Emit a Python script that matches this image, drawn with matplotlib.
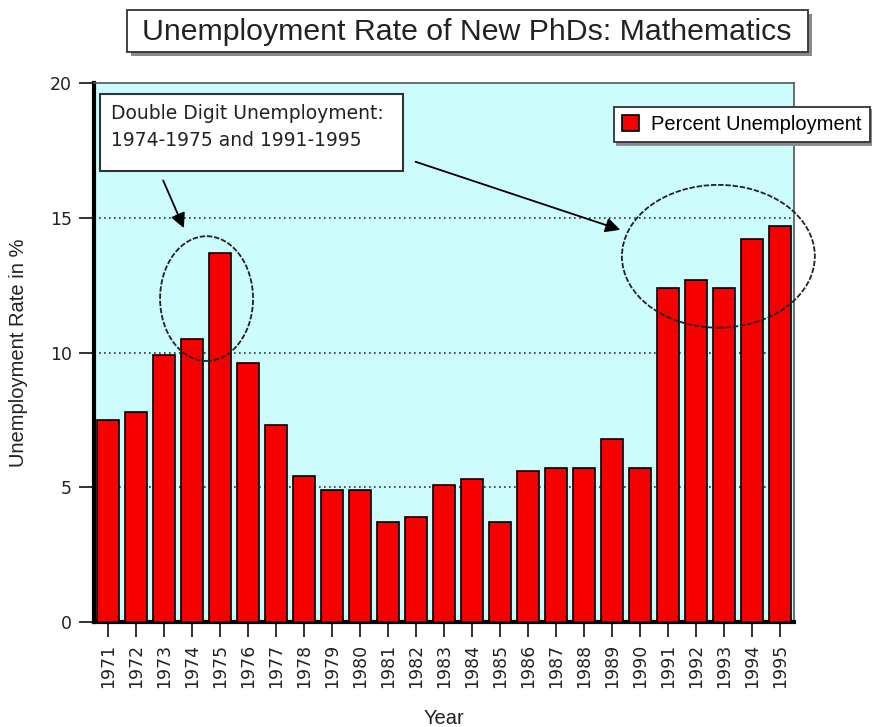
import matplotlib
matplotlib.use("Agg")
import matplotlib.pyplot as plt
from matplotlib.patches import Ellipse, Rectangle
import numpy as np

years = ["1971", "1972", "1973", "1974", "1975", "1976", "1977", "1978", "1979",
         "1980", "1981", "1982", "1983", "1984", "1985", "1986", "1987", "1988",
         "1989", "1990", "1991", "1992", "1993", "1994", "1995"]
rates = [7.5, 7.8, 9.9, 10.5, 13.7, 9.6, 7.3, 5.4, 4.9, 4.9, 3.7, 3.9, 5.1, 5.3,
         3.7, 5.6, 5.7, 5.7, 6.8, 5.7, 12.4, 12.7, 12.4, 14.2, 14.7]
yticks = [0, 5, 10, 15, 20]

W, H = 872, 727
fig = plt.figure(figsize=(W / 100, H / 100), dpi=100)
fig.patch.set_facecolor("white")

L, R, T, B = 94, 794, 83, 622
ax = fig.add_axes([L / W, 1 - B / H, (R - L) / W, (B - T) / H])
ax.set_facecolor("#ccfcfc")

x = np.arange(len(years))
ax.bar(x, rates, width=0.78, color="#f70000", edgecolor="black", linewidth=1.2,
       zorder=3, label="Percent Unemployment")

ax.set_xlim(-0.5, len(years) - 0.5)
ax.set_ylim(0, 20)
ax.set_yticks(yticks)
ax.set_yticklabels([str(v) for v in yticks], fontsize=12.5, family="DejaVu Sans", color="#222222")
ax.set_xticks(x)
ax.set_xticklabels(years, rotation=90, fontsize=12.5, family="DejaVu Sans", color="#222222")
ax.tick_params(axis="both", direction="out", length=11, width=1.3, color="#222222", pad=5)

for g in [5, 10, 15]:
    ax.axhline(g, color="#333333", linestyle=(0, (1, 2)), linewidth=1.2, zorder=1)

ax.spines["left"].set_linewidth(3)
ax.spines["bottom"].set_linewidth(3)
ax.spines["left"].set_color("black")
ax.spines["bottom"].set_color("black")
ax.spines["top"].set_linewidth(1.2)
ax.spines["right"].set_linewidth(1.2)
ax.spines["top"].set_color("#555555")
ax.spines["right"].set_color("#555555")

ax.set_ylabel("Unemployment Rate in %", fontsize=14.5, family="Liberation Sans",
              color="#222222")
ax.yaxis.set_label_coords(-0.094, 0.5)
ax.set_xlabel("Year", fontsize=14.5, family="Liberation Sans", color="#222222", labelpad=15)

# Annotation box
ax.add_patch(Rectangle((-0.29, 16.74), 10.83, 2.85, facecolor="white", edgecolor="#333333",
                       linewidth=1.5, zorder=5))
ax.text(0.1, 18.85, "Double Digit Unemployment:", fontsize=13.5, family="DejaVu Sans",
        va="center", ha="left", zorder=6, color="#222222")
ax.text(0.1, 17.85, "1974-1975 and 1991-1995", fontsize=13.5, family="DejaVu Sans",
        va="center", ha="left", zorder=6, color="#222222")

# Ellipses
ax.add_patch(Ellipse((3.52, 12.0), 3.32, 4.63, fill=False, edgecolor="#222222",
                     linewidth=1.3, linestyle=(0, (3, 1)), zorder=4, clip_on=False))
ax.add_patch(Ellipse((21.8, 13.57), 6.89, 5.3, fill=False, edgecolor="#222222",
                     linewidth=1.3, linestyle=(0, (3, 1)), zorder=4, clip_on=False))

# Arrows
arrow = dict(arrowstyle="-|>", color="black", lw=1.3, mutation_scale=22)
ax.annotate("", xy=(2.75, 14.52), xytext=(1.93, 16.48), arrowprops=arrow, zorder=6)
ax.annotate("", xy=(18.39, 14.52), xytext=(10.89, 17.11), arrowprops=arrow, zorder=6)

# Title box with shadow
def fig_rect(x0, y0, x1, y1, **kw):
    fig.patches.append(Rectangle((x0 / W, 1 - y1 / H), (x1 - x0) / W, (y1 - y0) / H,
                                 transform=fig.transFigure, figure=fig, **kw))

fig_rect(131, 14, 812, 56, facecolor="#8a8a8a", edgecolor="none")
fig_rect(127, 10, 808, 52, facecolor="white", edgecolor="#333333", linewidth=1.3)
fig.text(467 / W, 1 - 32 / H, "Unemployment Rate of New PhDs: Mathematics", fontsize=21.8,
         family="Liberation Sans", ha="center", va="center", color="#222222")

# Legend (box runs off the right edge of the figure)
leg = fig.legend(loc="upper left", bbox_to_anchor=(614 / W, 1 - 107 / H),
                 prop=dict(family="Liberation Sans", size=14.5), frameon=True, fancybox=False,
                 shadow=dict(color="#8a8a8a", alpha=1), handlelength=0.85, handleheight=0.85,
                 handletextpad=0.6, borderpad=0.4, borderaxespad=0)
leg.get_frame().set_edgecolor("#333333")
leg.get_frame().set_linewidth(1.3)

fig.savefig("out.png", dpi=100)
